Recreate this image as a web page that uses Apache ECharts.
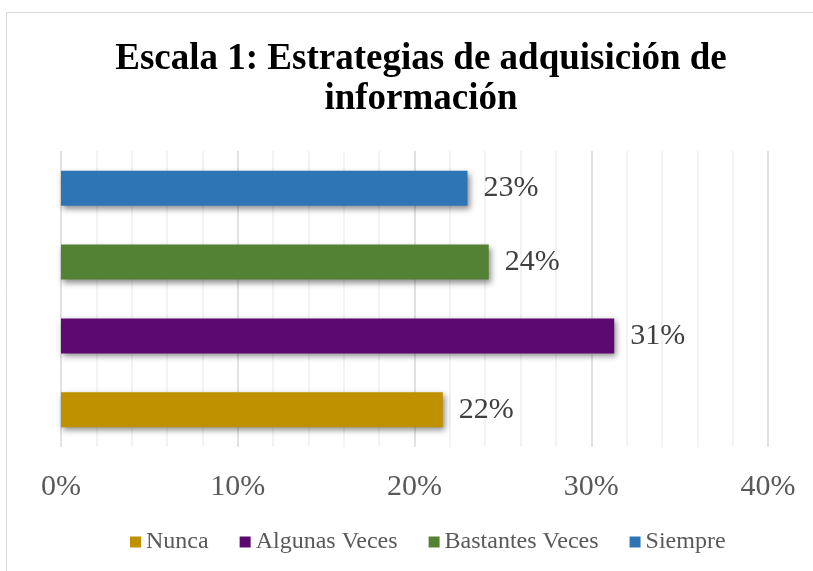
<!DOCTYPE html>
<html>
<head>
<meta charset="utf-8">
<script src="https://cdn.jsdelivr.net/npm/echarts@6/dist/echarts.min.js"></script>
<style>
  html, body { margin: 0; padding: 0; background: #fff; }
  #chart { width: 813px; height: 571px; }
</style>
</head>
<body>
<div id="chart"></div>
<script>
// datos
var categorias = [''];
var nombres = ['Nunca', 'Algunas Veces', 'Bastantes Veces', 'Siempre'];
var valores = [21.6, 31.3, 24.2, 23.0];
var colores = ['#BF9000', '#5C0A6F', '#548235', '#2E75B6'];
var ticksX = [0, 10, 20, 30, 40];

var fuente = '"Liberation Serif", "Times New Roman", serif';

var chart = echarts.init(document.getElementById('chart'));

// en echarts la primera serie queda arriba, asi que se agregan al reves
var series = [];
for (var i = nombres.length - 1; i >= 0; i--) {
    series.push({
        name: nombres[i],
        type: 'bar',
        data: [valores[i]],
        barWidth: 35,
        barGap: '111%',
        itemStyle: {
            color: colores[i],
            shadowColor: 'rgba(0,0,0,0.45)',
            shadowBlur: 6,
            shadowOffsetX: 2,
            shadowOffsetY: 3
        },
        label: {
            show: true,
            position: 'right',
            distance: 16,
            fontFamily: fuente,
            fontSize: 30,
            color: '#404040',
            formatter: function (p) { return Math.round(p.value) + '%'; }
        }
    });
}

var option = {
    animation: false,
    backgroundColor: '#fff',
    title: {
        text: 'Escala 1: Estrategias de adquisición de\ninformación',
        left: 416,
        textAlign: 'center',
        top: 34,
        textStyle: {
            fontFamily: fuente,
            fontSize: 37,
            fontWeight: 'bold',
            color: '#000',
            lineHeight: 40
        }
    },
    legend: {
        data: nombres,
        bottom: 12,
        left: 125,
        icon: 'rect',
        itemWidth: 11,
        itemHeight: 11,
        itemGap: 31,
        textStyle: {
            fontFamily: fuente,
            fontSize: 24,
            color: '#595959'
        }
    },
    grid: {
        left: 61,
        right: 45,
        top: 151,
        bottom: 124,
        containLabel: false
    },
    xAxis: {
        type: 'value',
        min: ticksX[0],
        max: ticksX[ticksX.length - 1],
        interval: 10,
        axisLine: { show: false },
        axisTick: { show: false },
        axisLabel: {
            margin: 25,
            fontFamily: fuente,
            fontSize: 30,
            color: '#595959',
            formatter: '{value}%'
        },
        splitLine: { show: true, lineStyle: { color: '#d9d9d9', width: 1.5 } },
        minorTick: { show: false, splitNumber: 5 },
        minorSplitLine: { show: true, lineStyle: { color: '#f0f0f0', width: 1.5 } }
    },
    yAxis: {
        type: 'category',
        data: categorias,
        axisLine: { show: false },
        axisTick: { show: false },
        axisLabel: { show: false },
        splitLine: { show: false }
    },
    graphic: [{
        type: 'rect',
        shape: { x: 6.5, y: 12.5, width: 900, height: 700 },
        style: { fill: 'none', stroke: '#d9d9d9', lineWidth: 1 },
        silent: true
    }],
    series: series
};

chart.setOption(option);
</script>
</body>
</html>
